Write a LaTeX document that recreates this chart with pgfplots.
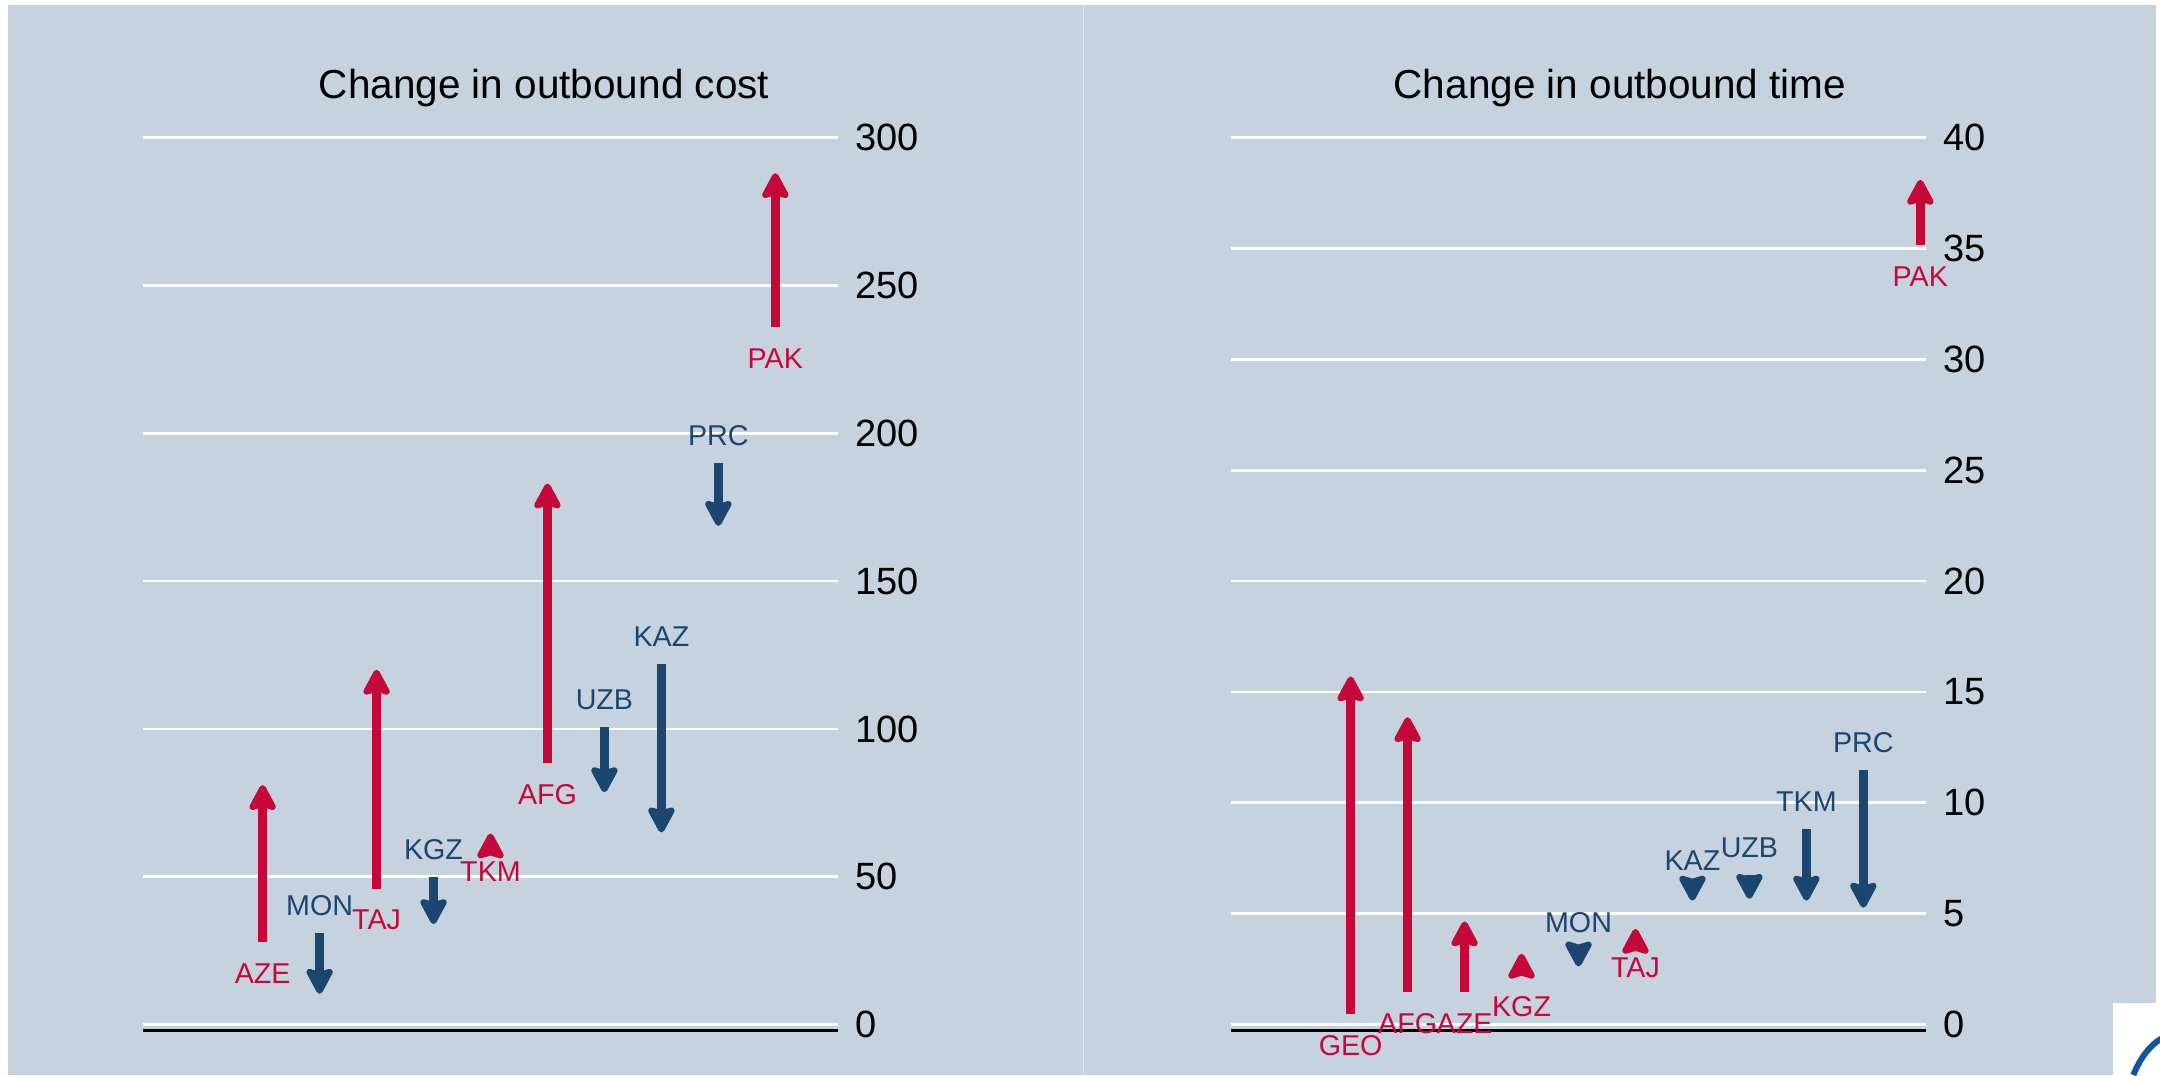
\documentclass[border=0pt]{standalone}
\usepackage{fontspec}
\setmainfont{Liberation Sans}
\usepackage{pgfplots}
\usepackage{pgfplotstable}
\pgfplotsset{compat=1.18}
\usetikzlibrary{arrows.meta}
\definecolor{bg}{RGB}{198,210,222}
\definecolor{upred}{RGB}{198,8,56}
\definecolor{dnblue}{RGB}{26,70,112}
\definecolor{logoblue}{RGB}{16,86,160}

% x = position, y = start value, dy = change (end - start)
\pgfplotstableread{
x y dy lab
1 28 53 AZE
3 46 74 TAJ
5 62.4 2.2 TKM
6 88.5 94.5 AFG
10 236 52 PAK
}\Lup
\pgfplotstableread{
x y dy lab
2 31 -20.6 MON
4 50 -16 KGZ
7 100.5 -21.9 UZB
8 122 -57 KAZ
9 190 -21.3 PRC
}\Ldn
\pgfplotstableread{
x y dy lab
1 0.46 15.24 GEO
2 1.47 12.39 AFG
3 1.47 3.18 AZE
4 2.24 0.95 KGZ
6 4.0 0.31 TAJ
11 35.15 2.95 PAK
}\Rup
\pgfplotstableread{
x y dy lab
5 3.36 -0.74 MON
7 6.13 -0.54 KAZ
8 6.75 -1.08 UZB
9 8.8 -3.21 TKM
10 11.47 -6.2 PRC
}\Rdn

\pgfplotsset{
 panel/.style={
  scale only axis, width=208.5pt, height=267.87pt,
  anchor=south west,
  xmin=-1.1, xmax=11.1,
  axis x line=bottom, axis y line=right,
  x axis line style={-, black, line width=0.8pt},
  y axis line style={draw=none},
  xtick=\empty,
  ymajorgrids, major grid style={white, line width=0.8pt},
  major tick length=0pt,
  yticklabel style={anchor=west, inner sep=0pt, xshift=5.1pt, font=\fontsize{11.4}{12}\selectfont},
  /pgf/number format/assume math mode=true,
  clip=false,
 },
 shaft/.style n args={2}{quiver={u=0, v={sign(\thisrow{dy})*max(abs(\thisrow{dy})-#2,0)}}, line width=2.7pt, color=#1, line cap=butt},
 head/.style={quiver={u=0, v=\thisrow{dy}}, line width=0.3pt, color=#1,
   -{Stealth[length=9pt, width=9.4pt, inset=1.3pt, round, line width=2pt]}},
 labup/.style={draw=none, nodes near coords, point meta=explicit symbolic,
   nodes near coords style={anchor=center, inner sep=0pt, yshift=-9.45pt, text=upred, font=\fontsize{8.6}{10}\selectfont}},
 labdn/.style={draw=none, nodes near coords, point meta=explicit symbolic,
   nodes near coords style={anchor=center, inner sep=0pt, yshift=8.25pt, text=dnblue, font=\fontsize{8.6}{10}\selectfont}},
}

\begin{document}
\begin{tikzpicture}
\useasboundingbox (0,0) rectangle (648pt,322.5pt);
\fill[white] (0,0) rectangle (648pt,322.5pt);
\fill[bg] (2.4pt,0) rectangle (646.8pt,321pt);
\draw[color=bg!55!white, line width=0.3pt] (324.9pt,0) -- (324.9pt,321pt);

\begin{axis}[panel, at={(42.9pt,13.32pt)}, ymin=-2.06, ymax=300, ytick={0,50,...,300}]
\addplot[shaft={upred}{6}] table[x=x,y=y] {\Lup};
\addplot[head=upred] table[x=x,y=y] {\Lup};
\addplot[shaft={dnblue}{6}] table[x=x,y=y] {\Ldn};
\addplot[head=dnblue] table[x=x,y=y] {\Ldn};
\addplot[labup] table[x=x,y=y,meta=lab] {\Lup};
\addplot[labdn] table[x=x,y=y,meta=lab] {\Ldn};
\end{axis}

\begin{axis}[panel, at={(369.3pt,13.32pt)}, ymin=-0.275, ymax=40, ytick={0,5,...,40}]
\addplot[shaft={upred}{0.8}] table[x=x,y=y] {\Rup};
\addplot[head=upred] table[x=x,y=y] {\Rup};
\addplot[shaft={dnblue}{0.8}] table[x=x,y=y] {\Rdn};
\addplot[head=dnblue] table[x=x,y=y] {\Rdn};
\addplot[labup] table[x=x,y=y,meta=lab] {\Rup};
\addplot[labdn] table[x=x,y=y,meta=lab] {\Rdn};
\end{axis}

\node[anchor=base, font=\fontsize{12.15}{14}\selectfont] at (163.2pt,293.1pt) {Change in outbound cost};
\node[anchor=base, font=\fontsize{12.15}{14}\selectfont] at (486pt,293.1pt) {Change in outbound time};

\fill[white] (633.9pt,0) rectangle (648pt,21.6pt);
\draw[logoblue, line width=1.8pt] (640pt,0) .. controls (642pt,5pt) and (645pt,9pt) .. (648.5pt,11pt);
\end{tikzpicture}
\end{document}
